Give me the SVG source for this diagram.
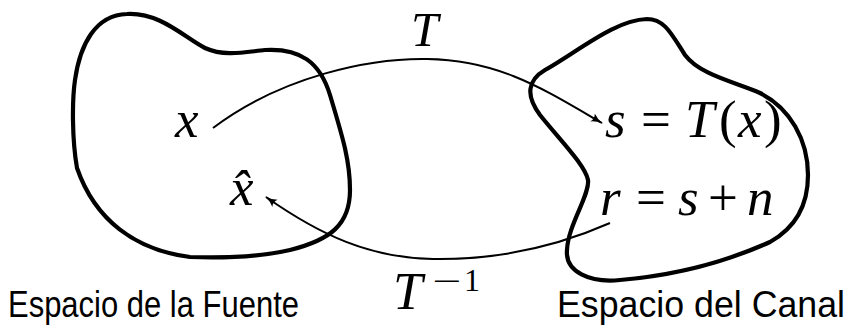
<svg xmlns="http://www.w3.org/2000/svg" width="855" height="329" viewBox="0 0 855 329">
<style>
.blob{fill:none;stroke:#000;stroke-width:4.2;stroke-linejoin:round}
.arc{fill:none;stroke:#000;stroke-width:2}
.m{font-family:"Liberation Serif","Times New Roman",serif;font-style:italic;font-size:53px;fill:#000}
.u{font-style:normal}
.sup{font-family:"Liberation Serif","Times New Roman",serif;font-style:normal;font-size:32px;fill:#000}
.lbl{font-family:"Liberation Sans",Arial,sans-serif;font-size:36px;fill:#000}
</style>
<defs>
<marker id="ah" viewBox="0 0 12 10" refX="11" refY="5" markerWidth="12" markerHeight="10" markerUnits="userSpaceOnUse" orient="auto">
<path d="M0,0.5 Q5,4 12,5 Q5,6 0,9.5 Q3,5 0,0.5 Z" fill="#000"/>
</marker>
</defs>
<g id="fuente">
<path class="blob" d="M127 14 C160 12,185 38,205 48 C225 57,245 52,265 50 C300 48,320 62,330 95 C342 135,350 160,350 190 C350 225,330 240,290 250 C255 258,220 258,190 257 C135 250,95 220,77 168 C72 140,72 100,75 80 C80 45,95 15,127 14 Z"/>
<text class="m" x="175" y="137">x</text>
<text class="m" x="230" y="205">x̂</text>
<text class="lbl" x="8" y="317" textLength="291" lengthAdjust="spacingAndGlyphs">Espacio de la Fuente</text>
</g>
<g id="canal">
<path class="blob" d="M647 19 C665 19,672 35,685 55 C700 75,735 82,760 93 C790 108,808 140,808 175 C808 205,795 228,770 242 C730 260,680 275,620 280 C590 283,565 272,567 250 C568 225,590 195,588 180 C585 165,560 140,540 115 C525 95,528 80,545 70 C580 50,615 20,647 19 Z"/>
<text class="m" y="137"><tspan x="605">s</tspan><tspan class="u" x="641">=</tspan><tspan x="685">T</tspan><tspan class="u" x="719">(</tspan><tspan x="738">x</tspan><tspan class="u" x="764">)</tspan></text>
<text class="m" y="215"><tspan x="600">r</tspan><tspan class="u" x="636">=</tspan><tspan x="678">s</tspan><tspan class="u" x="708">+</tspan><tspan x="747">n</tspan></text>
<text class="lbl" x="557" y="317" textLength="288" lengthAdjust="spacingAndGlyphs">Espacio del Canal</text>
</g>
<g id="connectors">
<path class="arc" d="M213 128 C282 76,370 58,427 59 C500 60,545 90,602 123" marker-end="url(#ah)"/>
<path class="arc" d="M610 223 C560 245,500 260,433 259 C370 258,320 235,266 197" marker-end="url(#ah)"/>
<text class="m" x="411" y="46" style="font-size:49px">T</text>
<text class="m" x="393" y="309">T</text>
<text class="sup" x="432" y="292" textLength="29" lengthAdjust="spacingAndGlyphs">−</text>
<text class="sup" x="464" y="291">1</text>
</g>
</svg>
